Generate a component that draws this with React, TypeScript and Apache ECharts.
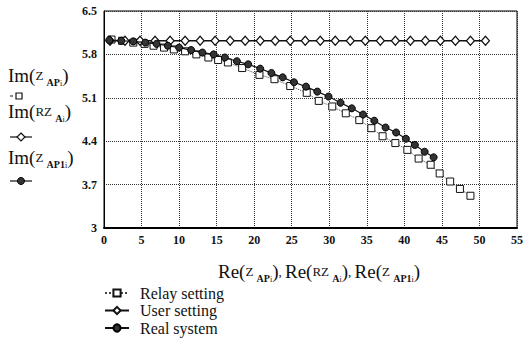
import React, { useEffect, useRef } from "react";
import * as echarts from "echarts";

// User setting (hollow diamonds)
const userX = [0.8, 2.8, 4.8, 6.8, 8.8, 10.8, 12.8, 14.8, 16.8, 18.8, 20.8, 22.8, 24.8, 26.8, 28.8, 30.8, 32.8, 34.8, 36.8, 38.8, 40.8, 42.8, 44.8, 46.8, 48.8, 50.8];
const userY = [6.02, 6.02, 6.02, 6.02, 6.02, 6.02, 6.02, 6.02, 6.02, 6.02, 6.02, 6.02, 6.02, 6.02, 6.02, 6.02, 6.02, 6.02, 6.02, 6.02, 6.02, 6.02, 6.02, 6.02, 6.02, 6.02];

// Real system (filled circles)
const realX = [0.7, 2.3, 3.9, 5.5, 7.0, 8.5, 10.0, 11.6, 13.1, 14.6, 16.1, 17.7, 19.2, 20.8, 22.3, 23.8, 25.3, 26.9, 28.4, 29.9, 31.5, 33.0, 34.5, 36.0, 37.5, 38.9, 40.2, 41.4, 42.7, 43.9];
const realY = [6.03, 6.02, 6.01, 5.99, 5.97, 5.94, 5.91, 5.87, 5.83, 5.8, 5.75, 5.69, 5.64, 5.57, 5.5, 5.43, 5.35, 5.28, 5.2, 5.12, 5.02, 4.93, 4.83, 4.73, 4.62, 4.54, 4.44, 4.34, 4.23, 4.14];

// Relay setting (hollow squares)
const relayX = [1.0, 2.4, 3.9, 5.4, 6.6, 8.0, 9.3, 10.8, 12.3, 13.9, 15.2, 16.5, 18.4, 20.7, 22.7, 24.8, 27.0, 28.6, 30.4, 32.2, 34.0, 35.6, 37.1, 38.8, 40.4, 41.9, 43.5, 44.7, 46.1, 47.4, 48.8];
const relayY = [6.04, 6.02, 5.99, 5.97, 5.94, 5.91, 5.88, 5.85, 5.8, 5.75, 5.71, 5.67, 5.58, 5.47, 5.4, 5.29, 5.18, 5.05, 4.96, 4.85, 4.74, 4.61, 4.48, 4.37, 4.26, 4.12, 4.02, 3.88, 3.75, 3.63, 3.52];

const seriesNames = ["Relay setting", "User setting", "Real system"];
const xMin = 0, xMax = 55, xStep = 5;
const yMin = 3, yMax = 6.5, yStep = 0.7;

const FONT = "'Liberation Serif', 'Times New Roman', serif";
const INK = "#111";

const pairs = (xs: number[], ys: number[]) => xs.map((x, i) => [x, ys[i]]);

const richLabel = {
  t: { fontFamily: FONT, fontSize: 13, fill: INK, lineHeight: 24 },
  p: { fontFamily: FONT, fontSize: 19, fill: INK, lineHeight: 24 },
  s: { fontFamily: FONT, fontSize: 10, fontWeight: "bold", fill: INK, lineHeight: 22, verticalAlign: "bottom" },
  i: { fontFamily: FONT, fontSize: 8, fill: INK, lineHeight: 20, verticalAlign: "bottom" },
};

export default function App() {
  const ref = useRef<HTMLDivElement>(null);
  useEffect(() => {
    if (!ref.current) return;
    const chart = echarts.init(ref.current, null, { renderer: "svg" });
    const symLeft = 10;
    chart.setOption({
      animation: false,
      backgroundColor: "#fff",
      grid: { left: 104, right: 14, top: 11, bottom: 115, show: true, borderColor: "#000", borderWidth: 1, backgroundColor: "transparent" },
      xAxis: {
        type: "value", min: xMin, max: xMax, interval: xStep,
        axisLine: { show: true, onZero: false, lineStyle: { color: "#000", width: 2 } },
        axisTick: { show: false },
        axisLabel: { fontFamily: FONT, fontSize: 12, fontWeight: "bold", color: INK, margin: 6 },
        splitLine: { show: true, lineStyle: { type: "dotted", color: "#333", width: 1 } },
      },
      yAxis: {
        type: "value", min: yMin, max: yMax, interval: yStep,
        axisLine: { show: true, onZero: false, lineStyle: { color: "#000", width: 1 } },
        axisTick: { show: false },
        axisLabel: {
          fontFamily: FONT, fontSize: 12, fontWeight: "bold", color: INK, margin: 7,
          formatter: (v: number) => {
            const r = Math.round(v * 10) / 10;
            return Number.isInteger(r) ? String(r) : r.toFixed(1);
          },
        },
        splitLine: { show: true, lineStyle: { type: "dotted", color: "#333", width: 1 } },
      },
      legend: {
        orient: "vertical", left: 104, top: 285, itemGap: 1.5, itemWidth: 24, itemHeight: 9,
        data: seriesNames,
        textStyle: { fontFamily: FONT, fontSize: 16, lineHeight: 16, color: INK, padding: [0, 0, 0, 6] },
        padding: 0,
      },
      series: [
        {
          name: seriesNames[0], type: "line", data: pairs(relayX, relayY),
          symbol: "rect", symbolSize: 7,
          itemStyle: { color: "#fff", borderColor: "#111", borderWidth: 1 },
          lineStyle: { type: "dotted", color: "#444", width: 1 },
          z: 2,
        },
        {
          name: seriesNames[1], type: "line", data: pairs(userX, userY),
          symbol: "diamond", symbolSize: [8, 9],
          itemStyle: { color: "#fff", borderColor: "#111", borderWidth: 1.2 },
          lineStyle: { type: "solid", color: "#111", width: 1.6 },
          z: 3,
        },
        {
          name: seriesNames[2], type: "line", data: pairs(realX, realY),
          symbol: "circle", symbolSize: 7,
          itemStyle: { color: "#333", borderColor: "#000", borderWidth: 1 },
          lineStyle: { type: "solid", color: "#111", width: 1.2 },
          z: 4,
        },
      ],
      graphic: [
        {
          type: "text", left: 218, top: 262,
          style: { text: "{p|Re(}{t|Z }{s|AP}{i|i}{p|)}{t|, }{p|Re(}{t|RZ }{s|A}{i|i}{p|)}{t|, }{p|Re(}{t|Z }{s|AP1}{i|i}{p|)}", rich: richLabel },
        },
        {
          type: "text", left: 8, top: 66,
          style: { text: "{p|Im(}{t|Z }{s|AP}{i|i}{p|)}", rich: richLabel },
        },
        { type: "line", shape: { x1: symLeft, y1: 96, x2: symLeft + 3, y2: 96 }, style: { stroke: INK, lineWidth: 1 } },
        { type: "rect", shape: { x: symLeft + 6, y: 93, width: 6, height: 6 }, style: { fill: "#fff", stroke: INK, lineWidth: 1.2 } },
        {
          type: "text", left: 8, top: 102,
          style: { text: "{p|Im(}{t|RZ }{s|A}{i|i}{p|)}", rich: richLabel },
        },
        { type: "line", shape: { x1: symLeft, y1: 137, x2: symLeft + 22, y2: 137 }, style: { stroke: INK, lineWidth: 1.2 } },
        { type: "polygon", shape: { points: [[symLeft + 11, 133], [symLeft + 15, 137], [symLeft + 11, 141], [symLeft + 7, 137]] }, style: { fill: "#fff", stroke: INK, lineWidth: 1.2 } },
        {
          type: "text", left: 8, top: 148,
          style: { text: "{p|Im(}{t|Z }{s|AP1}{i|i}{p|)}", rich: richLabel },
        },
        { type: "line", shape: { x1: symLeft, y1: 181, x2: symLeft + 22, y2: 181 }, style: { stroke: INK, lineWidth: 1.2 } },
        { type: "circle", shape: { cx: symLeft + 11, cy: 181, r: 3.5 }, style: { fill: "#333", stroke: "#000", lineWidth: 1 } },
      ],
    });
    return () => chart.dispose();
  }, []);
  return <div ref={ref} style={{ width: 531, height: 343, position: "absolute", left: 0, top: 0 }} />;
}
